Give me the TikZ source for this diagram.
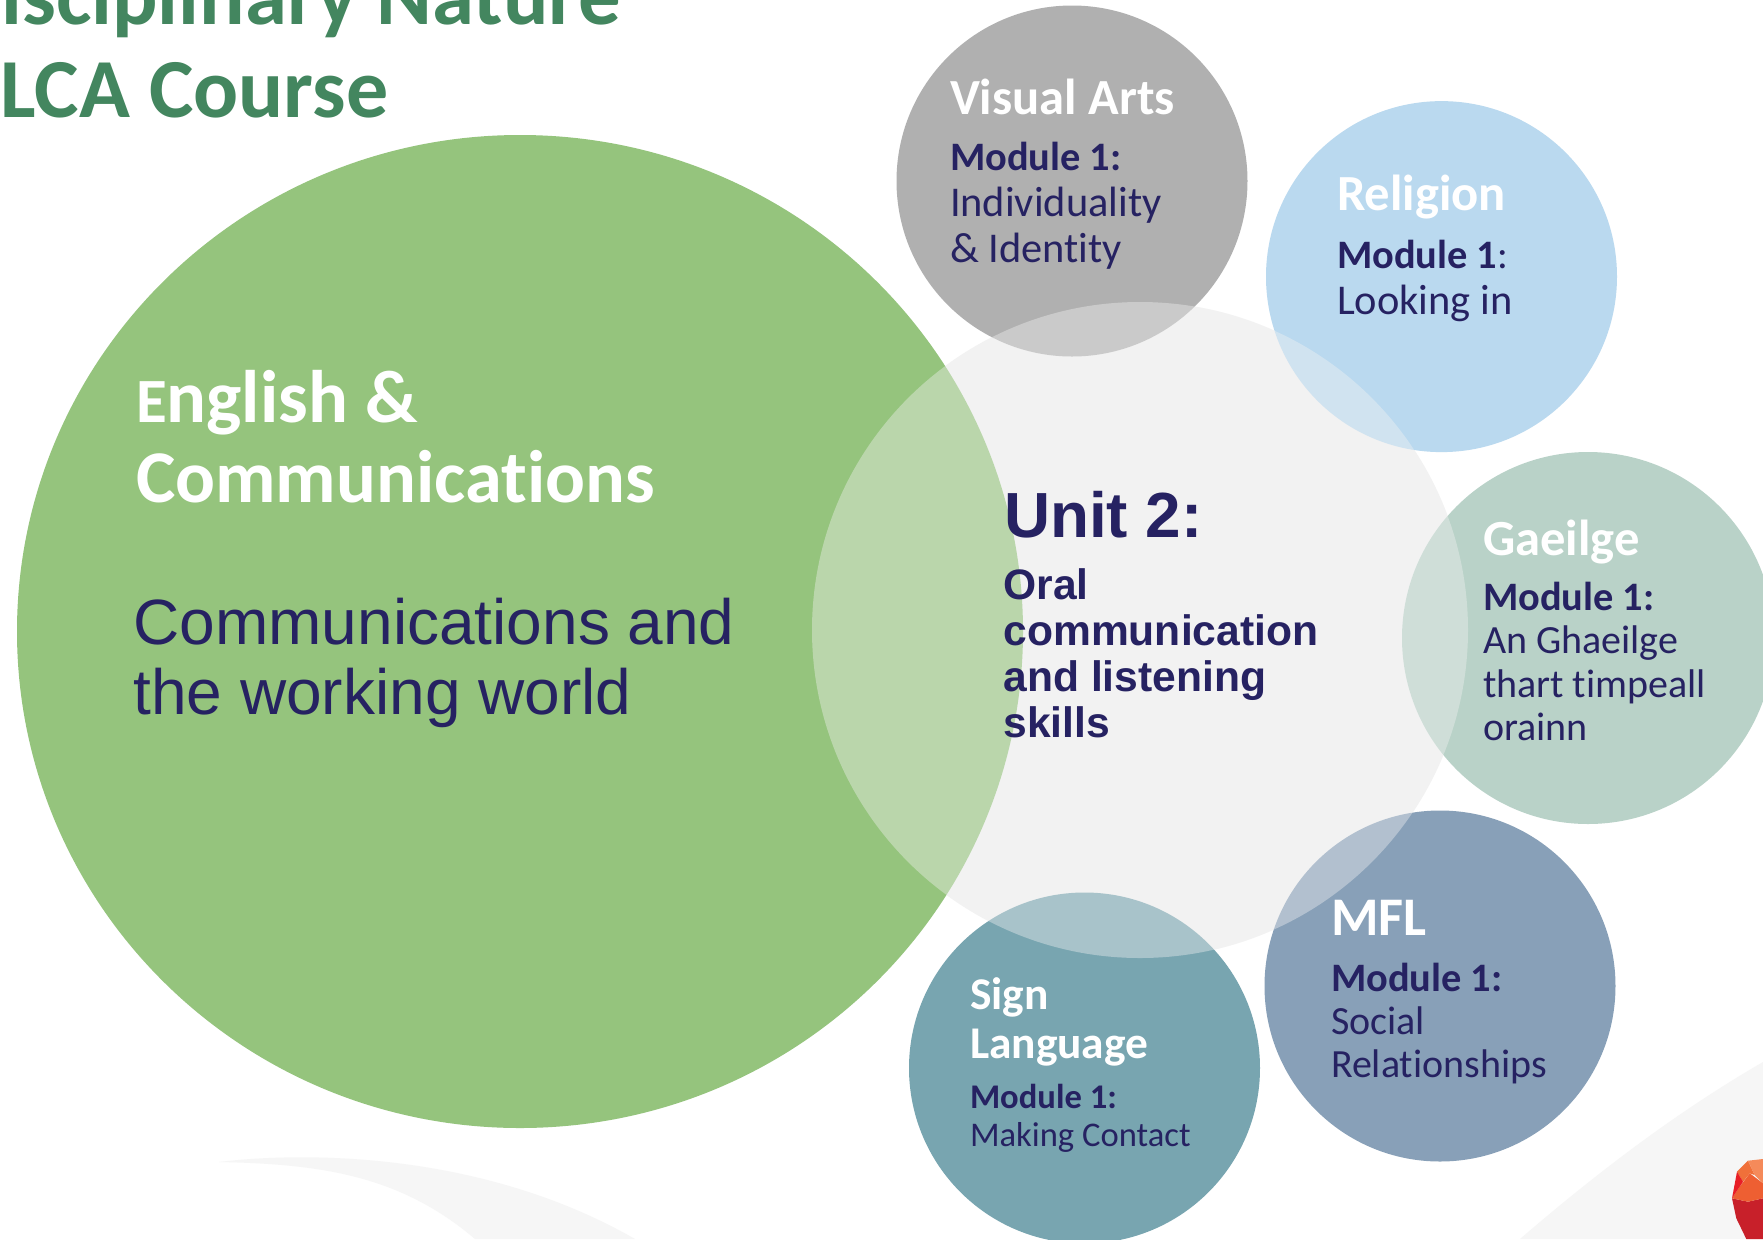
\documentclass[tikz,border=0pt]{standalone}
\usepackage{fontspec}
\usetikzlibrary{shapes.geometric}
\setmainfont{Carlito}[Ligatures=NoCommon]
\newfontfamily\arialf{Liberation Sans}
\definecolor{navy}{HTML}{262262}
\definecolor{titlegreen}{HTML}{43865F}
\definecolor{cgreen}{HTML}{95C47D}
\definecolor{ccentre}{HTML}{F2F2F2}
\definecolor{cvisual}{HTML}{B0B0B0}
\definecolor{creligion}{HTML}{BAD9EF}
\definecolor{cgaeilge}{HTML}{B9D2C8}
\definecolor{cmfl}{HTML}{88A0B8}
\definecolor{csign}{HTML}{78A5B0}
\definecolor{swooshgrey}{HTML}{F6F6F6}
\definecolor{lgA}{HTML}{F58A5A}
\definecolor{lgB}{HTML}{EE5F32}
\definecolor{lgC}{HTML}{E81E25}
\definecolor{lgD}{HTML}{C8202A}
\definecolor{lgE}{HTML}{F0703A}
\newcommand\sz[1]{\fontsize{#1}{#1}\selectfont}
\newcommand\tl[1]{{\sz{25.3}\bfseries\color{white}#1}}
\tikzset{
  x=0.5pt,y=-0.5pt,
  disc/.style={circle,minimum size=2*#1*0.5pt,inner sep=0pt,outer sep=0pt},
  txt/.style={anchor=north west,inner sep=0pt,outer sep=0pt,align=left,text=navy,font=\fontsize{21.2}{23}\selectfont},
  swoosh/.style={fill=swooshgrey,draw=none}
}
\newcommand\md[1]{{\sz{20.2}\bfseries #1}}
\begin{document}
\begin{tikzpicture}
\useasboundingbox (0,0) rectangle (1763,1239);
\begin{scope}
\clip (0,0) rectangle (1763,1239);
\fill[white] (0,0) rectangle (1763,1239);
% swooshes
\fill[swoosh] (219,1162) .. controls (300,1152) and (480,1150) .. (635,1239) -- (475,1239) .. controls (400,1175) and (320,1164) .. (219,1162) -- cycle;
\fill[swoosh] (1520,1239) .. controls (1600,1170) and (1680,1110) .. (1763,1062) -- (1763,1239) -- cycle;
% logo fragment
\fill[lgD] (1732,1198.3) -- (1748,1201.7) -- (1763,1198.3) -- (1763,1239) -- (1746.3,1239) -- (1736.3,1218.3) -- cycle;
\fill[lgB] (1749.7,1173.3) -- (1763,1183.3) -- (1763,1198.3) -- (1748,1201.7) -- (1732,1198.3) -- (1739.7,1186.7) -- cycle;
\fill[lgE] (1737,1171.7) -- (1748,1160.7) -- (1754.7,1175) -- (1749.7,1173.3) -- (1743,1181.7) -- cycle;
\fill[lgA] (1748,1160.7) -- (1763,1159) -- (1763,1183.3) -- (1754.7,1175) -- cycle;
\fill[lgC] (1737,1171.7) -- (1743,1181.7) -- (1739.7,1186.7) -- (1732,1198.3) -- cycle;
% discs
\node[disc=328,fill=ccentre] (centre) at (1140,630) {};
\node[ellipse,minimum width=503pt,minimum height=496.5pt,inner sep=0pt,outer sep=0pt,fill=cgreen] (english) at (520,631.5) {};
\node[disc=175.5,fill=cvisual] (visual) at (1072,181) {};
\node[disc=175.5,fill=creligion] (religion) at (1441.5,276.6) {};
\node[disc=186,fill=cgaeilge] (gaeilge) at (1588,638) {};
\node[disc=175.5,fill=cmfl] (mfl) at (1440,986) {};
\node[disc=175.5,fill=csign] (sign) at (1084.5,1068) {};
\node[disc=328,fill=ccentre,fill opacity=0.4] (veil) at (1140,630) {};
\end{scope}
% title
\node[anchor=base west,inner sep=0pt,text=titlegreen,font=\sz{42.4}\bfseries] (t1) at (1,24) {isciplinary Nature};
\node[anchor=base west,inner sep=0pt,text=titlegreen,font=\sz{42}\bfseries] (t2) at (0,117) {LCA Course};
% big circle
\node[txt,font=\fontsize{37.2}{40}\selectfont\bfseries,text=white] (eng) at (136,370) {{\sz{31.5}E}nglish \&\\Communications};
\node[txt,font=\fontsize{32}{35}\selectfont\arialf,text=navy] (engsub) at (133.5,598) {Communications and\\the working world};
% centre
\node[txt,font=\sz{31.9}\arialf\bfseries] (unit) at (1004,491) {Unit 2:};
\node[txt,font=\fontsize{21.3}{23}\selectfont\arialf\bfseries] (oral) at (1003.5,569) {Oral\\communication\\and listening\\skills};
% small
\node[txt] (vt) at (950,79) {\tl{Visual Arts}\\[5.2pt]\md{Module 1:}\\Individuality\\\& Identity};
\node[txt] (rt) at (1337,175) {\tl{Religion}\\[5.9pt]\md{Module 1}{\sz{20.2}:}\\Looking in};
\node[txt,font=\fontsize{20}{21.6}\selectfont] (gt) at (1483,520) {\tl{Gaeilge}\\[6pt]\md{Module 1:}\\An Ghaeilge\\thart timpeall\\orainn};
\node[txt,font=\fontsize{20}{21.6}\selectfont] (mt) at (1331,900) {{\sz{27.2}\bfseries\color{white}MFL}\\[6.3pt]\md{Module 1:}\\Social\\Relationships};
\node[txt,font=\fontsize{17.3}{19}\selectfont] (st) at (970,978) {{\sz{22.7}\bfseries\color{white}Sign}\\[5.2pt]{\sz{22.7}\bfseries\color{white}Language}\\[6.2pt]{\bfseries Module 1:}\\Making Contact};
\end{tikzpicture}
\end{document}
